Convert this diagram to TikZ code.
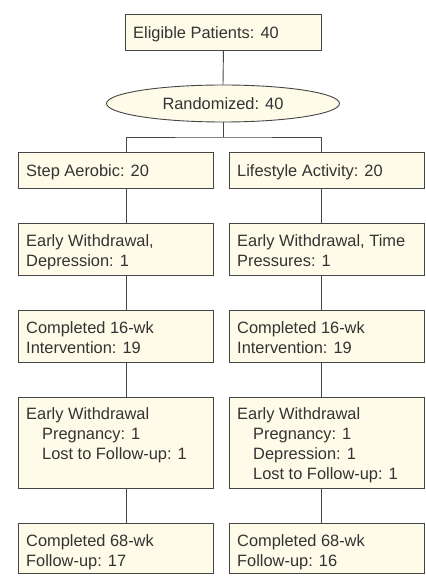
\documentclass[tikz,border=0pt]{standalone}
\usepackage{fontspec}
\setmainfont{Liberation Sans}
\usetikzlibrary{shapes.geometric,calc}
\definecolor{boxfill}{HTML}{FEFBE8}
\definecolor{edgecol}{HTML}{454545}
\definecolor{ink}{HTML}{333333}
\tikzset{
  box/.style={draw=edgecol, fill=boxfill, line width=0.9pt, minimum width=195pt, inner sep=0pt, anchor=north west},
  txt/.style={anchor=north west, inner sep=0pt, align=left, text=ink, font=\fontsize{16.4}{20}\selectfont},
  conn/.style={draw=edgecol, line width=0.9pt},
}
\newcommand{\ind}{\hspace*{16pt}}
\begin{document}
\begin{tikzpicture}[x=1pt,y=-1pt]
\useasboundingbox (0,0) rectangle (425,585);
\coordinate (lx) at (126,0);
\coordinate (rx) at (321,0);
\coordinate (br) at (223,137);

% top
\node[box, minimum width=196pt, minimum height=36pt] (elig) at (125,14) {};
\node[txt] (eligt) at ($(elig.north west)+(8,12)$) {Eligible Patients: 40};
\node[ellipse, draw=edgecol, fill=boxfill, line width=0.9pt, minimum width=233pt, minimum height=37pt, inner sep=0pt, text=ink, font=\fontsize{16.4}{20}\selectfont] (rand) at (223,103.5) {Randomized: 40};

% row 1
\node[box, minimum height=36pt] (sa) at (18,152) {};
\node[box, minimum height=36pt] (la) at (229,152) {};
\node[txt] (sat) at ($(sa.north west)+(8,12)$) {Step Aerobic: 20};
\node[txt] (lat) at ($(la.north west)+(8,12)$) {Lifestyle Activity: 20};

% row 2
\node[box, minimum height=52pt] (lw1) at (18,223) {};
\node[box, minimum height=52pt] (rw1) at (229,223) {};
\node[txt] (lw1t) at ($(lw1.north west)+(8,11)$) {Early Withdrawal,\\Depression: 1};
\node[txt] (rw1t) at ($(rw1.north west)+(8,11)$) {Early Withdrawal, Time\\Pressures: 1};

% row 3
\node[box, minimum height=52pt] (lc1) at (18,310) {};
\node[box, minimum height=52pt] (rc1) at (229,310) {};
\node[txt] (lc1t) at ($(lc1.north west)+(8,11)$) {Completed 16-wk\\Intervention: 19};
\node[txt] (rc1t) at ($(rc1.north west)+(8,11)$) {Completed 16-wk\\Intervention: 19};

% row 4
\node[box, minimum height=91pt] (lw2) at (18,397) {};
\node[box, minimum height=91pt] (rw2) at (229,397) {};
\node[txt] (lw2t) at ($(lw2.north west)+(8,10)$) {Early Withdrawal\\\ind Pregnancy: 1\\\ind Lost to Follow-up: 1};
\node[txt] (rw2t) at ($(rw2.north west)+(8,10)$) {Early Withdrawal\\\ind Pregnancy: 1\\\ind Depression: 1\\\ind Lost to Follow-up: 1};

% row 5
\node[box, minimum height=50pt] (lc2) at (18,523) {};
\node[box, minimum height=50pt] (rc2) at (229,523) {};
\node[txt] (lc2t) at ($(lc2.north west)+(8,11)$) {Completed 68-wk\\Follow-up: 17};
\node[txt] (rc2t) at ($(rc2.north west)+(8,11)$) {Completed 68-wk\\Follow-up: 16};

% connectors
\draw[conn] (elig.south) -- (rand.north);
\draw[conn] (rand.south) -- (br);
\draw[conn] (sa.north -| lx) |- (br) -| (la.north -| rx);
\draw[conn] (sa.south -| lx) -- (lw1.north -| lx);
\draw[conn] (lw1.south -| lx) -- (lc1.north -| lx);
\draw[conn] (lc1.south -| lx) -- (lw2.north -| lx);
\draw[conn] (lw2.south -| lx) -- (lc2.north -| lx);
\draw[conn] (la.south -| rx) -- (rw1.north -| rx);
\draw[conn] (rw1.south -| rx) -- (rc1.north -| rx);
\draw[conn] (rc1.south -| rx) -- (rw2.north -| rx);
\draw[conn] (rw2.south -| rx) -- (rc2.north -| rx);
\end{tikzpicture}
\end{document}
